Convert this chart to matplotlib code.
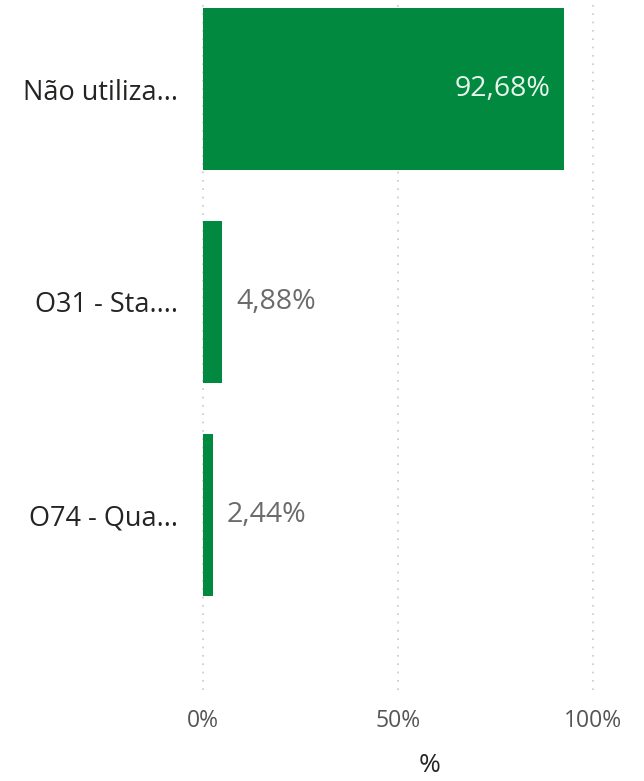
import matplotlib.pyplot as plt
from matplotlib.transforms import offset_copy

categorias = ['Não utiliza...', 'O31 - Sta....', 'O74 - Qua...']
valores = [92.68, 4.88, 2.44]
rotulos = ['92,68%', '4,88%', '2,44%']
ticks = [0, 50, 100]
ticks_txt = ['0%', '50%', '100%']

verde = '#01893f'
fonte = ['Open Sans', 'DejaVu Sans']

fig = plt.figure(figsize=(6.44, 7.81), dpi=100)
W, H = 644, 781
# eixo de 203px ate 603px na horizontal, do topo ate 690px
ax = fig.add_axes([203 / W, 1 - 690 / H, 400 / W, 690 / H])

pos = list(range(len(categorias)))
ax.barh(pos, valores, height=0.76, color=verde, zorder=2)

ax.set_xlim(0, 100 * 400 / 390)
ax.set_ylim((690 - 89) / 213, -89 / 213)

for x in ticks:
    ax.axvline(x, color='#c8c8c8', linestyle=(0, (1, 4)), linewidth=1.2, zorder=1, clip_on=False)

for i, (v, r) in enumerate(zip(valores, rotulos)):
    if v > 50:
        t = offset_copy(ax.transData, fig=fig, x=-14, y=0, units='dots')
        ax.text(v, i, r, transform=t, ha='right', va='center', color='#e8f5ec',
                fontsize=20.5, family=fonte)
    else:
        t = offset_copy(ax.transData, fig=fig, x=14, y=0, units='dots')
        ax.text(v, i, r, transform=t, ha='left', va='center', color='#6b6b6b',
                fontsize=20.5, family=fonte)

ax.set_yticks(pos)
ax.set_yticklabels(categorias, fontsize=19.5, color='#252423', family=fonte)
ax.set_xticks(ticks)
ax.set_xticklabels(ticks_txt, fontsize=16.5, color='#555555', family=fonte)
ax.tick_params(axis='y', length=0, pad=18)
ax.tick_params(axis='x', length=0, pad=14)

for s in ax.spines.values():
    s.set_visible(False)

fig.text(430 / W, 1 - 765 / H, '%', ha='center', va='center', fontsize=19,
         color='#252423', family=fonte)

fig.savefig('out.png', dpi=100)
